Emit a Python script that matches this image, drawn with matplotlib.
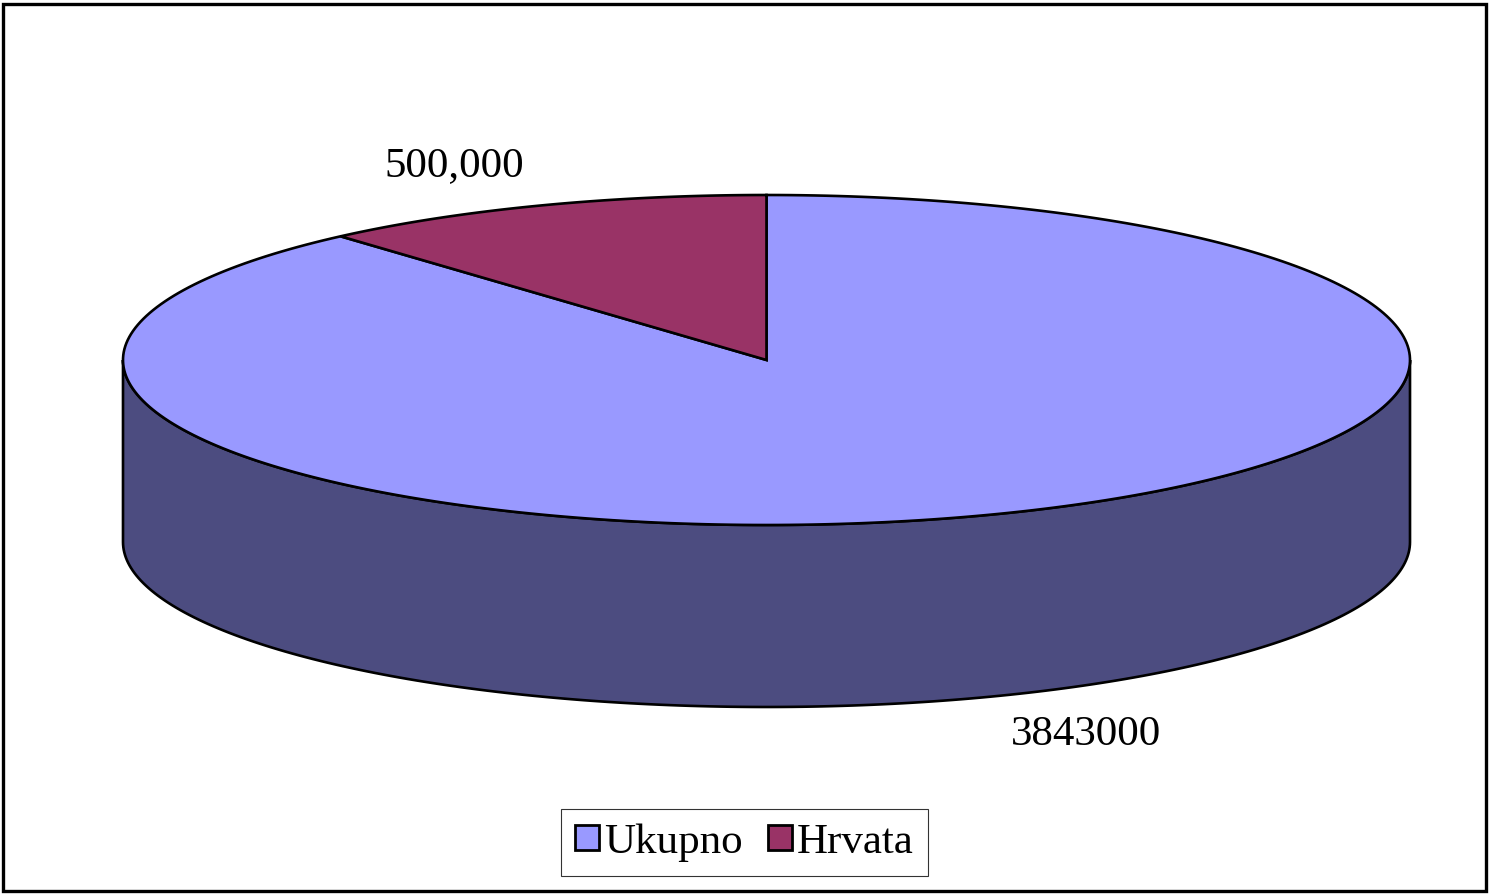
import numpy as np
import matplotlib
matplotlib.use("Agg")
import matplotlib.pyplot as plt
from matplotlib.patches import Polygon, Patch, Rectangle

categories = ["Ukupno", "Hrvata"]
values = [3843000, 500000]
value_labels = ["3843000", "500,000"]
colors = ["#9999FF", "#993366"]
side_colors = ["#4C4C80", "#4D1A33"]

plt.rcParams['font.family'] = ['Liberation Serif', 'DejaVu Serif']

W, H = 1490, 894
fig = plt.figure(figsize=(W / 100, H / 100), dpi=100)
ax = fig.add_axes([0, 0, 1, 1])
ax.set_xlim(0, W)
ax.set_ylim(H, 0)
ax.axis("off")

# pie geometry (pixel units)
cx, cy = 766.5, 360.0
a, b = 643.5, 165.0
depth = 182.0
lw = 1.9

def pt(theta_deg, dy=0.0):
    t = np.radians(theta_deg)
    return cx + a * np.cos(t), cy - b * np.sin(t) + dy

total = float(sum(values))
start = 90.0
spans = []
for v in values:
    sweep = 360.0 * v / total
    spans.append((start - sweep, start))  # clockwise from top
    start -= sweep

# side walls (front half: 180..360 deg)
for (t0, t1), sc in zip(spans, side_colors):
    for off in (-360, 0, 360):
        lo, hi = max(t0 + off, 180.0), min(t1 + off, 360.0)
        if hi > lo:
            th = np.linspace(lo, hi, 200)
            top = [pt(t) for t in th]
            bot = [pt(t, depth) for t in th[::-1]]
            ax.add_patch(Polygon(top + bot, closed=True, facecolor=sc,
                                 edgecolor="black", lw=lw, zorder=1))

# top faces
for (t0, t1), c in zip(spans, colors):
    th = np.linspace(t0, t1, 300)
    verts = [(cx, cy)] + [pt(t) for t in th]
    ax.add_patch(Polygon(verts, closed=True, facecolor=c,
                         edgecolor="black", lw=lw, zorder=2, joinstyle="miter"))

# data labels
ax.text(1086, 735, value_labels[0], fontsize=31, ha="center", va="center", zorder=3)
ax.text(454, 166, value_labels[1], fontsize=31, ha="center", va="center", zorder=3)

# legend
handles = [Patch(facecolor=c, edgecolor="black", lw=2.0) for c in colors]
leg = fig.legend(handles, categories, loc="center", bbox_to_anchor=(744.5 / W, 1 - 842.5 / H),
                 ncol=2, fontsize=31, frameon=True, fancybox=False, shadow=False,
                 handlelength=0.55, handleheight=0.55, handletextpad=0.12,
                 columnspacing=0.6, borderpad=0.32, borderaxespad=0)
leg.get_frame().set_edgecolor("black")
leg.get_frame().set_linewidth(0.8)

# outer chart border
fig.add_artist(Rectangle((3.5 / W, 3.5 / H), (W - 8) / W, (H - 7.5) / H,
                         transform=fig.transFigure, fill=False,
                         edgecolor="black", lw=2.4))

fig.savefig("out.png", dpi=100, facecolor="white")
